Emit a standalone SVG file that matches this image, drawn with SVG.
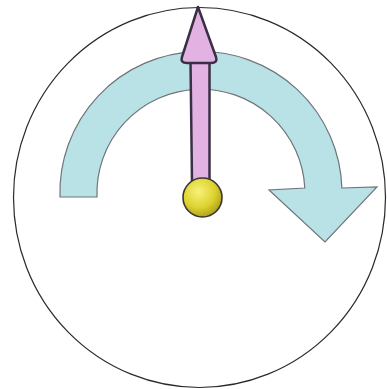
<svg xmlns="http://www.w3.org/2000/svg" width="387" height="389" viewBox="0 0 387 389">
  <defs>
    <radialGradient id="ballGrad" cx="0.4" cy="0.35" r="0.7">
      <stop offset="0" stop-color="#f8f27a"/>
      <stop offset="0.6" stop-color="#dcd22e"/>
      <stop offset="1" stop-color="#a89a18"/>
    </radialGradient>
  </defs>
  <style>
    .dial { fill: #ffffff; stroke: #2a2a2a; stroke-width: 1.2; }
    .turn { fill: #b8e2e6; stroke: #707478; stroke-width: 1.2; stroke-linejoin: miter; }
    .needle { fill: #e2b2e2; stroke: #3a3046; stroke-width: 2.5; stroke-linejoin: round; }
    .hub { fill: url(#ballGrad); stroke: #3a3530; stroke-width: 1.6; }
  </style>
  <rect width="387" height="389" fill="#ffffff"/>
  <g id="dial">
    <ellipse class="dial" cx="199.5" cy="197.5" rx="186" ry="190"/>
  </g>
  <g id="rotation-arrow">
    <path class="turn" d="M 60,197 A 141 141 0 0 1 341.9,188 L 377,187 L 325,242 L 269,190 L 304.8,188 A 104 104 0 0 0 97,197 Z"/>
  </g>
  <g id="needle">
    <path class="needle" d="M 190.5,61 L 209.5,61 L 209.5,182 L 192,182 Z"/>
    <path class="needle" d="M 198,7 L 216,57 Q 218,63 211,63 L 187,63 Q 180,63 182,57 Z"/>
  </g>
  <g id="hub">
    <circle class="hub" cx="202.5" cy="197.5" r="19.5"/>
  </g>
</svg>
